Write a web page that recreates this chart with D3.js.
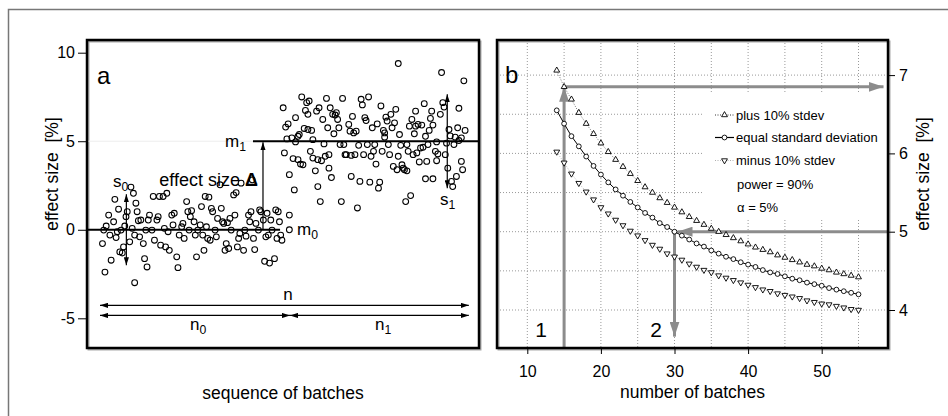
<!DOCTYPE html>
<html>
<head>
<meta charset="utf-8">
<script src="https://d3js.org/d3.v7.min.js"></script>
<style>
  body { margin: 0; background: #fff; }
  svg text { font-family: "Liberation Sans", Arial, Helvetica, sans-serif; }
</style>
</head>
<body>
<script>

    // ---- panel a : [batch, effect size %] before and after the change
    var before = [[3,-0.78],[4,-0.02],[5,-2.39],[6,0.21],[8,0.83],[9,-0.30],[10,-1.72],[12,0.45],[13,1.72],[14,-0.44],
        [15,-0.11],[16,1.16],[17,-1.25],[18,-0.02],[19,-1.31],[20,-0.97],[21,0.21],[22,0.74],[23,1.02],[25,-0.68],
        [26,2.41],[27,0.08],[28,2.06],[29,-0.30],[29,-2.99],[30,1.50],[31,1.02],[32,0.51],[33,-0.40],[34,0.55],[36,-0.78],
        [37,-1.63],[38,-0.02],[39,-2.10],[40,0.55],[41,0.83],[43,-0.02],[44,1.88],[45,-0.59],[47,0.55],[48,0.74],
        [49,1.88],[50,-0.87],[52,1.88],[53,0.08],[54,-0.97],[55,2.06],[56,-0.11],[57,-1.16],[59,0.83],[60,0.27],
        [61,0.93],[63,-1.53],[64,-2.14],[65,-0.30],[67,0.17],[68,0.36],[69,-0.49],[71,1.59],[72,1.02],[73,-0.02],
        [74,0.74],[75,1.08],[77,0.45],[78,-0.30],[79,-1.53],[80,-0.02],[82,0.27],[83,1.31],[84,-0.30],[85,-1.16],
        [86,1.88],[87,0.17],[88,-0.49],[89,1.84],[90,-0.59],[91,1.21],[92,1.02],[94,-0.02],[95,-0.40],[96,0.64],
        [98,2.54],[99,1.21],[100,0.45],[101,0.36],[102,-1.16],[103,-0.78],[104,0.40],[105,-1.06],[106,0.64],[107,-0.02],
        [109,1.97],[110,0.83],[111,2.10],[112,-0.97],[113,-0.49],[114,-0.21],[115,2.63],[117,-1.16],[118,-0.02],[119,-0.36],
        [121,0.83],[122,0.45],[123,1.02],[124,2.82],[125,-0.49],[126,-1.12],[127,0.36],[129,-0.02],[130,1.12],[131,1.02],
        [133,0.55],[134,-1.78],[135,-0.40],[136,0.93],[137,-0.30],[138,-1.88],[139,0.55],[140,-0.02],[142,-1.63],[143,1.12],
        [144,-0.49],[145,1.02],[146,0.45],[147,-0.30],[148,-0.59],[154,0.83],[154,0.00]];

    var after = [[149,6.89],[150,4.34],[151,5.80],[152,5.13],[153,5.98],[154,3.11],[156,5.19],[157,4.02],[158,2.25],[159,6.33],
        [159,4.96],[161,5.28],[161,3.96],[162,5.38],[163,3.71],[164,7.50],[165,3.67],[166,5.72],[167,6.74],[168,7.18],
        [169,6.52],[169,5.66],[170,7.27],[171,4.43],[172,5.61],[173,5.09],[173,4.05],[175,3.33],[176,6.70],[177,3.96],
        [177,2.44],[178,6.89],[179,1.59],[180,3.90],[181,6.23],[182,4.85],[183,4.15],[184,7.42],[185,5.76],[186,3.48],
        [186,4.24],[187,6.89],[188,2.95],[189,6.52],[190,5.42],[191,6.48],[192,6.61],[193,6.23],[194,5.76],[195,4.81],
        [196,1.59],[197,7.42],[198,4.81],[199,4.24],[200,4.24],[202,5.95],[203,5.57],[204,4.20],[204,3.01],[205,6.40],
        [206,5.47],[207,4.24],[208,5.57],[209,1.23],[210,4.77],[211,2.73],[212,7.37],[213,7.05],[214,4.24],[215,6.33],
        [216,6.17],[217,4.81],[218,7.50],[219,2.69],[220,4.15],[221,5.76],[222,4.43],[223,4.81],[224,3.71],[225,5.98],
        [226,2.35],[227,2.69],[228,6.99],[229,4.43],[230,5.61],[231,5.23],[231,5.47],[232,6.36],[233,6.14],[234,4.81],
        [235,4.24],[236,6.52],[237,5.76],[238,3.58],[239,6.04],[240,6.80],[241,3.39],[242,9.39],[242,4.15],[243,5.38],
        [244,4.77],[245,3.67],[246,3.48],[247,3.39],[248,1.59],[249,4.81],[249,3.33],[250,4.43],[251,5.85],[252,1.93],
        [253,6.23],[254,4.24],[255,5.42],[256,6.70],[256,5.85],[257,4.34],[258,5.95],[259,3.83],[260,4.62],[261,5.91],
        [262,4.66],[263,7.12],[264,5.28],[264,2.88],[265,3.86],[266,4.81],[267,5.61],[268,6.29],[269,6.70],[270,2.88],
        [270,5.91],[272,4.43],[273,3.90],[273,4.96],[274,4.28],[276,6.52],[277,8.88],[278,7.18],[279,6.93],[280,4.24],
        [281,4.89],[282,3.48],[283,5.66],[284,5.30],[285,2.73],[286,2.44],[287,4.81],[288,5.23],[289,3.01],[290,5.76],
        [291,5.04],[291,6.86],[293,3.86],[293,5.19],[294,3.39],[295,8.41],[296,5.61]];

    var yTicksA = [-5, 0, 5, 10];
    var means = {m0: 0, m1: 5};
    var spreads = {s0: 2.0, s1: 2.65};
    var nMarks = [1, 154.5, 299];      // first batch, change point, last batch

    // ---- panel b : required effect size [%] vs number of batches
    var nBatches = [14,15,16,17,18,19,20,21,22,23,24,25,26,27,28,29,30,31,32,33,34,
        35,36,37,38,39,40,41,42,43,44,45,46,47,48,49,50,51,52,53,54,55];
    var plusSd  = [7.06,6.85,6.69,6.52,6.38,6.25,6.13,6.02,5.92,5.83,5.74,5.65,5.57,5.50,5.43,5.37,5.31,5.25,5.19,5.14,5.09,
        5.04,5.00,4.96,4.92,4.88,4.84,4.80,4.77,4.74,4.70,4.67,4.64,4.61,4.58,4.56,4.53,4.51,4.48,4.46,4.44,4.42];
    var equalSd = [6.55,6.38,6.22,6.09,5.96,5.84,5.73,5.63,5.54,5.46,5.38,5.31,5.24,5.18,5.11,5.06,5.00,4.95,4.90,4.85,4.81,
        4.76,4.72,4.68,4.65,4.61,4.58,4.55,4.51,4.48,4.46,4.43,4.40,4.38,4.35,4.33,4.31,4.28,4.26,4.24,4.22,4.20];
    var minusSd = [6.02,5.88,5.74,5.62,5.51,5.41,5.31,5.23,5.15,5.08,5.01,4.95,4.89,4.83,4.78,4.72,4.68,4.64,4.59,4.55,4.51,
        4.48,4.44,4.41,4.38,4.35,4.32,4.29,4.26,4.24,4.21,4.19,4.17,4.15,4.12,4.10,4.08,4.07,4.05,4.03,4.01,4.00];
    var xTicksB = [10, 20, 30, 40, 50];
    var yTicksB = [4, 5, 6, 7];
    var gridXB = [10, 15, 20, 25, 30, 35, 40, 45, 50, 55];
    var gridYB = [4, 4.5, 5, 5.5, 6, 6.5, 7];
    var legendLabels = ['plus 10% stdev', 'equal standard deviation', 'minus 10% stdev'];
    var noteLabels = ['power = 90%', '\u03b1 = 5%'];
    var arrow1 = {n: 15, v: 6.85, toN: 58.4};   // reading 1
    var arrow2 = {n: 30, v: 5, toV: 3.66};      // reading 2

    var width = 948, height = 416;
    var grey = '#8c8c8c';
    var plainNum = function(d) { return String(d); };   // "-5" with a hyphen, "7" not "7.0"

    var svg = d3.select('body').append('svg')
        .attr('width', width)
        .attr('height', height);

    // outer frame
    svg.append('rect')
        .attr('x', 8.5).attr('y', 9.5)
        .attr('width', width).attr('height', height)
        .attr('fill', 'none').attr('stroke', '#777').attr('stroke-width', 1.5);

    var defs = svg.append('defs');
    function arrowHead(id, color, len, half) {
        defs.append('marker')
            .attr('id', id)
            .attr('markerUnits', 'userSpaceOnUse')
            .attr('viewBox', '0 ' + (-half) + ' ' + len + ' ' + (2 * half))
            .attr('refX', len).attr('refY', 0)
            .attr('markerWidth', len).attr('markerHeight', 2 * half)
            .attr('orient', 'auto-start-reverse')
            .append('path')
            .attr('d', 'M0,' + (-half) + 'L' + len + ',0L0,' + half + 'Z')
            .attr('fill', color);
    }
    arrowHead('ah', '#000', 8, 2.6);
    arrowHead('gh', grey, 15, 5);

    function subLabel(g, x, y, main, sub, size, anchor) {
        var t = g.append('text')
            .attr('x', x).attr('y', y)
            .attr('font-size', size)
            .attr('text-anchor', anchor || 'start');
        t.append('tspan').text(main);
        t.append('tspan').attr('font-size', size * 0.72).attr('dy', size * 0.25).text(sub);
        return t;
    }

    // =============== panel a ===============
    var pa = {l: 87, t: 40, r: 479, b: 348};
    var ax = d3.scaleLinear().domain([1, 299]).range([100, 468.8]);
    var ay = d3.scaleLinear().domain([-5, 10]).range([318.3, 52.7]);
    var ga = svg.append('g');

    ga.append('rect')
        .attr('x', pa.l + 1.5).attr('y', pa.t + 1.5)
        .attr('width', pa.r - pa.l).attr('height', pa.b - pa.t)
        .attr('fill', 'none').attr('stroke', '#aaa').attr('stroke-width', 2);

    ga.append('line')
        .attr('x1', pa.l).attr('x2', pa.r)
        .attr('y1', ay(5)).attr('y2', ay(5))
        .attr('stroke', '#eee').attr('stroke-width', 1);

    var yAxisA = d3.axisLeft(ay).tickValues(yTicksA).tickFormat(plainNum).tickSize(9).tickPadding(3);
    var gYA = ga.append('g').attr('transform', 'translate(' + pa.l + ',0)').call(yAxisA);
    gYA.select('.domain').remove();
    gYA.attr('font-family', null);
    gYA.selectAll('text').attr('font-size', 16).attr('fill', '#000');
    gYA.selectAll('line').attr('stroke', '#000');

    ga.selectAll('circle.pt').data(before.concat(after))
        .enter().append('circle')
        .attr('class', 'pt')
        .attr('cx', function(d) { return ax(d[0]); })
        .attr('cy', function(d) { return ay(d[1]); })
        .attr('r', 2.9)
        .attr('fill', 'none')
        .attr('stroke', '#000')
        .attr('stroke-width', 1.05);

    // means
    ga.append('line')
        .attr('x1', pa.l).attr('x2', ax(146.5))
        .attr('y1', ay(means.m0)).attr('y2', ay(means.m0))
        .attr('stroke', '#000').attr('stroke-width', 2);
    ga.append('line')
        .attr('x1', ax(124.6)).attr('x2', pa.r)
        .attr('y1', ay(means.m1)).attr('y2', ay(means.m1))
        .attr('stroke', '#000').attr('stroke-width', 2);

    // effect size arrow
    ga.append('line')
        .attr('x1', ax(132.7)).attr('x2', ax(132.7))
        .attr('y1', ay(means.m0)).attr('y2', ay(means.m1) + 1)
        .attr('stroke', '#000').attr('stroke-width', 1.2)
        .attr('marker-end', 'url(#ah)');

    // spread arrows
    ga.append('line')
        .attr('x1', ax(22.3)).attr('x2', ax(22.3))
        .attr('y1', ay(means.m0 + spreads.s0)).attr('y2', ay(means.m0 - spreads.s0))
        .attr('stroke', '#000').attr('stroke-width', 1.2)
        .attr('marker-start', 'url(#ah)').attr('marker-end', 'url(#ah)');
    ga.append('line')
        .attr('x1', ax(281.6)).attr('x2', ax(281.6))
        .attr('y1', ay(means.m1 + spreads.s1)).attr('y2', ay(means.m1 - spreads.s1))
        .attr('stroke', '#000').attr('stroke-width', 1.2)
        .attr('marker-start', 'url(#ah)').attr('marker-end', 'url(#ah)');

    // n arrows
    var nY = ay(-4.27), n01Y = ay(-4.84);
    ga.append('line')
        .attr('x1', ax(nMarks[0])).attr('x2', ax(nMarks[2]))
        .attr('y1', nY).attr('y2', nY)
        .attr('stroke', '#000').attr('stroke-width', 1.2)
        .attr('marker-start', 'url(#ah)').attr('marker-end', 'url(#ah)');
    ga.append('line')
        .attr('x1', ax(nMarks[0])).attr('x2', ax(nMarks[1]))
        .attr('y1', n01Y).attr('y2', n01Y)
        .attr('stroke', '#000').attr('stroke-width', 1.2)
        .attr('marker-start', 'url(#ah)').attr('marker-end', 'url(#ah)');
    ga.append('line')
        .attr('x1', ax(nMarks[1])).attr('x2', ax(nMarks[2]))
        .attr('y1', n01Y).attr('y2', n01Y)
        .attr('stroke', '#000').attr('stroke-width', 1.2)
        .attr('marker-start', 'url(#ah)').attr('marker-end', 'url(#ah)');

    // annotation texts
    ga.append('text').attr('x', 97).attr('y', 84).attr('font-size', 24).text('a');
    var eff = ga.append('text')
        .attr('x', ax(132.7) - 5).attr('y', 186)
        .attr('font-size', 18).attr('text-anchor', 'end');
    eff.append('tspan').text('effect size');
    eff.append('tspan').attr('dx', 5).attr('font-weight', 'bold').text('\u0394');
    subLabel(ga, ax(124.6) - 7, ay(means.m1) + 6, 'm', '1', 17, 'end');
    subLabel(ga, 297, ay(means.m0) + 5, 'm', '0', 17);
    subLabel(ga, ax(22.3) + 2, 187, 's', '0', 17, 'end');
    subLabel(ga, 440, 205, 's', '1', 17);
    ga.append('text').attr('x', 288).attr('y', 300).attr('font-size', 17)
        .attr('text-anchor', 'middle').text('n');
    subLabel(ga, 190, 330, 'n', '0', 17);
    subLabel(ga, 375, 330, 'n', '1', 17);

    ga.append('rect')
        .attr('x', pa.l).attr('y', pa.t)
        .attr('width', pa.r - pa.l).attr('height', pa.b - pa.t)
        .attr('fill', 'none').attr('stroke', '#000').attr('stroke-width', 2.5);

    ga.append('text')
        .attr('transform', 'translate(58,174) rotate(-90)')
        .attr('text-anchor', 'middle').attr('font-size', 17.5)
        .attr('xml:space', 'preserve')
        .text('effect size  [%]');
    ga.append('text')
        .attr('x', (pa.l + pa.r) / 2).attr('y', 399)
        .attr('text-anchor', 'middle').attr('font-size', 17.5)
        .text('sequence of batches');

    // =============== panel b ===============
    var pb = {l: 497, t: 40, r: 888, b: 348};
    var bx = d3.scaleLinear().domain([10, 50]).range([527.3, 821.7]);
    var by = d3.scaleLinear().domain([4, 7]).range([310, 75.1]);
    var gb = svg.append('g');

    gb.append('rect')
        .attr('x', pb.l + 1.5).attr('y', pb.t + 1.5)
        .attr('width', pb.r - pb.l).attr('height', pb.b - pb.t)
        .attr('fill', 'none').attr('stroke', '#aaa').attr('stroke-width', 2);

    gb.selectAll('line.gx').data(gridXB).enter().append('line')
        .attr('class', 'gx')
        .attr('x1', function(d) { return bx(d); }).attr('x2', function(d) { return bx(d); })
        .attr('y1', pb.t).attr('y2', pb.b)
        .attr('stroke', '#999').attr('stroke-width', 1).attr('stroke-dasharray', '1,2');
    gb.selectAll('line.gy').data(gridYB).enter().append('line')
        .attr('class', 'gy')
        .attr('x1', pb.l).attr('x2', pb.r)
        .attr('y1', function(d) { return by(d); }).attr('y2', function(d) { return by(d); })
        .attr('stroke', '#999').attr('stroke-width', 1).attr('stroke-dasharray', '1,2');

    // legend background hides the grid
    gb.append('rect')
        .attr('x', 703).attr('y', 94)
        .attr('width', 184).attr('height', 126)
        .attr('fill', '#fff');

    // reading arrows
    gb.append('line')
        .attr('x1', bx(arrow1.n)).attr('x2', bx(arrow1.n))
        .attr('y1', pb.b).attr('y2', by(arrow1.v))
        .attr('stroke', grey).attr('stroke-width', 3).attr('marker-end', 'url(#gh)');
    gb.append('line')
        .attr('x1', bx(arrow1.n)).attr('x2', bx(arrow1.toN))
        .attr('y1', by(arrow1.v)).attr('y2', by(arrow1.v))
        .attr('stroke', grey).attr('stroke-width', 3).attr('marker-end', 'url(#gh)');
    gb.append('line')
        .attr('x1', pb.r).attr('x2', bx(arrow2.n) + 3)
        .attr('y1', by(arrow2.v)).attr('y2', by(arrow2.v))
        .attr('stroke', grey).attr('stroke-width', 3).attr('marker-end', 'url(#gh)');
    gb.append('line')
        .attr('x1', bx(arrow2.n)).attr('x2', bx(arrow2.n))
        .attr('y1', by(arrow2.v)).attr('y2', by(arrow2.toV))
        .attr('stroke', grey).attr('stroke-width', 3).attr('marker-end', 'url(#gh)');

    var series = [
        {name: legendLabels[0], vals: plusSd, stroke: '#555', dash: '1,1.5', sym: 'up'},
        {name: legendLabels[1], vals: equalSd, stroke: '#000', dash: null, sym: 'circle'},
        {name: legendLabels[2], vals: minusSd, stroke: '#aaa', dash: '1,1.5', sym: 'down'}
    ];
    var tri = d3.symbol().type(d3.symbolTriangle).size(15);
    var line = d3.line()
        .x(function(d) { return bx(d[0]); })
        .y(function(d) { return by(d[1]); });

    function drawMarker(g, sym, x, y) {
        if (sym === 'circle') {
            g.append('circle').attr('cx', x).attr('cy', y).attr('r', 2.4)
                .attr('fill', '#fff').attr('stroke', '#000').attr('stroke-width', 0.9);
        } else {
            g.append('path').attr('d', tri())
                .attr('transform', 'translate(' + x + ',' + y + ')' + (sym === 'down' ? ' rotate(180)' : ''))
                .attr('fill', '#fff').attr('stroke', '#000').attr('stroke-width', 0.9);
        }
    }

    series.forEach(function(s) {
        var pts = nBatches.map(function(n, i) { return [n, s.vals[i]]; });
        gb.append('path').datum(pts)
            .attr('d', line)
            .attr('fill', 'none')
            .attr('stroke', s.stroke)
            .attr('stroke-width', s.dash ? 0.8 : 1)
            .attr('stroke-dasharray', s.dash);
        pts.forEach(function(p) { drawMarker(gb, s.sym, bx(p[0]), by(p[1])); });
    });

    // legend
    var legY = [115, 137.5, 160.5];
    series.forEach(function(s, i) {
        gb.append('line')
            .attr('x1', 715).attr('x2', 734)
            .attr('y1', legY[i]).attr('y2', legY[i])
            .attr('stroke', s.dash ? (i === 0 ? '#000' : '#999') : '#000')
            .attr('stroke-width', s.dash ? 0.8 : 1.2)
            .attr('stroke-dasharray', s.dash);
        drawMarker(gb, s.sym, 724.5, legY[i]);
        gb.append('text').attr('x', 736).attr('y', legY[i]).attr('dy', '0.35em')
            .attr('font-size', 13).text(s.name);
    });
    noteLabels.forEach(function(t, i) {
        gb.append('text').attr('x', 737).attr('y', 184 + i * 23).attr('dy', '0.35em')
            .attr('font-size', 13).text(t);
    });

    var xAxisB = d3.axisBottom(bx).tickValues(xTicksB).tickFormat(plainNum).tickSize(6).tickPadding(12);
    var gXB = gb.append('g').attr('transform', 'translate(0,' + pb.b + ')').call(xAxisB);
    gXB.select('.domain').remove();
    gXB.attr('font-family', null);
    gXB.selectAll('text').attr('font-size', 16).attr('fill', '#000');
    gXB.selectAll('line').attr('stroke', '#000');

    var yAxisB = d3.axisRight(by).tickValues(yTicksB).tickFormat(plainNum).tickSize(7).tickPadding(4);
    var gYB = gb.append('g').attr('transform', 'translate(' + pb.r + ',0)').call(yAxisB);
    gYB.select('.domain').remove();
    gYB.attr('font-family', null);
    gYB.selectAll('text').attr('font-size', 16).attr('fill', '#000');
    gYB.selectAll('line').attr('stroke', '#000');

    gb.append('text').attr('x', 505).attr('y', 83).attr('font-size', 24).text('b');
    gb.append('text').attr('x', 541).attr('y', 337).attr('font-size', 21)
        .attr('text-anchor', 'middle').text('1');
    gb.append('text').attr('x', 656).attr('y', 337).attr('font-size', 21)
        .attr('text-anchor', 'middle').text('2');

    gb.append('rect')
        .attr('x', pb.l).attr('y', pb.t)
        .attr('width', pb.r - pb.l).attr('height', pb.b - pb.t)
        .attr('fill', 'none').attr('stroke', '#000').attr('stroke-width', 2.5);

    gb.append('text')
        .attr('transform', 'translate(929,174) rotate(-90)')
        .attr('text-anchor', 'middle').attr('font-size', 17.5)
        .attr('xml:space', 'preserve')
        .text('effect size  [%]');
    gb.append('text')
        .attr('x', (pb.l + pb.r) / 2).attr('y', 398)
        .attr('text-anchor', 'middle').attr('font-size', 17.5)
        .text('number of batches');

</script>
</body>
</html>
